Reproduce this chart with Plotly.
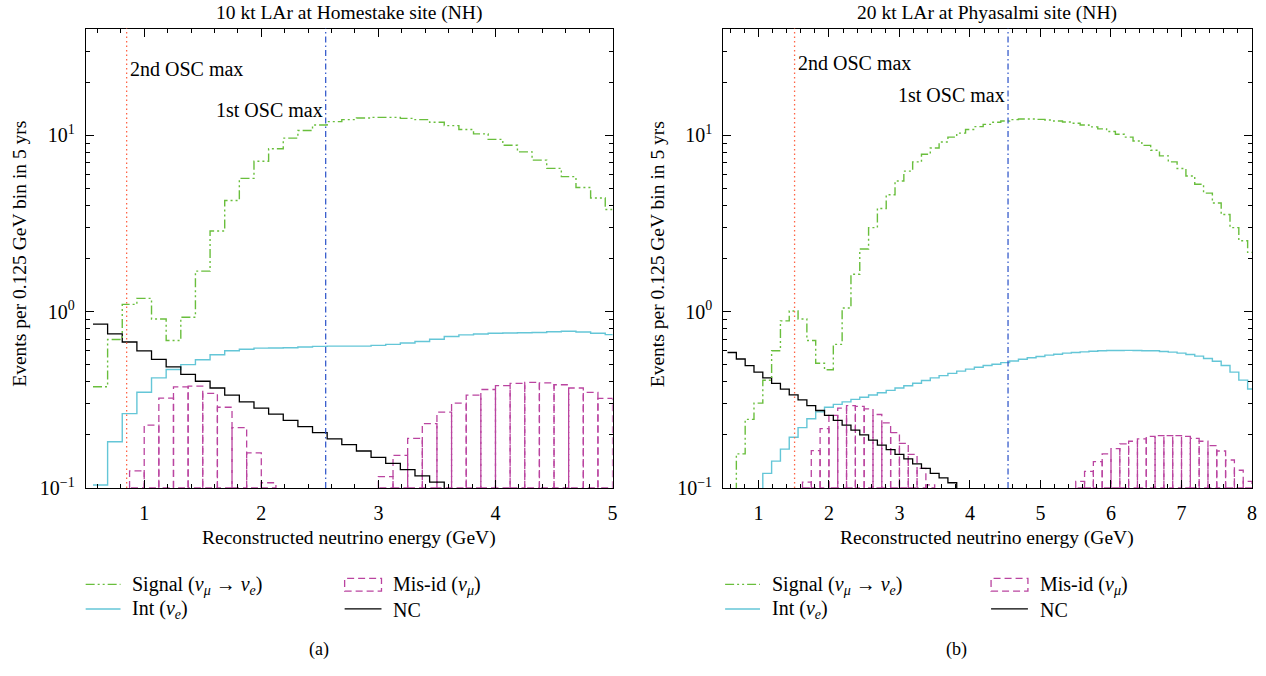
import numpy as np
import plotly.graph_objects as go

# ---------------- data ----------------
BIN_WIDTH = 0.125
FIRST_CENTER = 0.625   # first step centre of the step histograms (GeV)
FIRST_EDGE = 0.5       # first box edge of the mis-id histograms (GeV)

# (a) 10 kt LAr at Homestake
a_signal = [0.375, 0.696, 1.10, 1.19, 0.91, 0.687, 0.93, 1.70, 2.87, 4.28,
            5.71, 7.14, 8.41, 9.66, 10.67, 11.47, 11.98, 12.30, 12.57, 12.67,
            12.67, 12.51, 12.30, 11.88, 11.38, 10.81, 10.22, 9.50, 8.80, 8.07,
            7.25, 6.51, 5.84, 5.07, 4.42, 3.80]
a_int = [0.104, 0.183, 0.264, 0.349, 0.421, 0.470, 0.501, 0.534, 0.570, 0.600,
         0.612, 0.621, 0.623, 0.625, 0.631, 0.636, 0.638, 0.638, 0.638, 0.644,
         0.653, 0.664, 0.678, 0.698, 0.723, 0.739, 0.748, 0.755, 0.757, 0.760,
         0.762, 0.770, 0.774, 0.767, 0.755, 0.741]
a_nc = [0.85, 0.748, 0.673, 0.600, 0.537, 0.487, 0.441, 0.403, 0.369, 0.336,
        0.308, 0.284, 0.262, 0.242, 0.223, 0.206, 0.190, 0.176, 0.162, 0.149,
        0.138, 0.127, 0.117, 0.108, 0.098]
a_misid = [None, None, None, 0.125, 0.227, 0.323, 0.375, 0.378, 0.344, 0.287,
           0.220, 0.158, 0.107, None, None, None, None, None, None, None,
           0.116, 0.153, 0.191, 0.232, 0.269, 0.303, 0.336, 0.362, 0.381, 0.392,
           0.397, 0.395, 0.385, 0.369, 0.349, 0.322]
a_osc_1st = 2.55
a_osc_2nd = 0.85

# (b) 20 kt LAr at Pyhasalmi
b_signal = [0.08, 0.156, 0.245, 0.303, 0.408, 0.600, 0.887, 1.01, 0.910, 0.687,
            0.510, 0.468, 0.653, 1.05, 1.63, 2.27, 3.00, 3.85, 4.61, 5.52,
            6.28, 7.08, 7.82, 8.49, 9.18, 9.79, 10.31, 10.81, 11.23, 11.57,
            11.88, 12.09, 12.30, 12.40, 12.40, 12.35, 12.25, 12.09, 11.93, 11.73,
            11.47, 11.19, 10.90, 10.53, 10.17, 9.79, 9.30, 8.79, 8.24, 7.66,
            7.08, 6.50, 5.89, 5.29, 4.71, 4.14, 3.56, 3.00, 2.53, 2.17]
b_int = [0.07, 0.08, 0.085, 0.09, 0.121, 0.142, 0.166, 0.194, 0.220, 0.247,
         0.270, 0.287, 0.298, 0.308, 0.318, 0.327, 0.337, 0.347, 0.358, 0.369,
         0.380, 0.393, 0.407, 0.421, 0.434, 0.447, 0.460, 0.472, 0.484, 0.495,
         0.503, 0.514, 0.525, 0.537, 0.548, 0.557, 0.567, 0.574, 0.582, 0.587,
         0.592, 0.597, 0.600, 0.602, 0.602, 0.603, 0.602, 0.601, 0.600, 0.595,
         0.590, 0.582, 0.572, 0.560, 0.543, 0.523, 0.495, 0.454, 0.409, 0.364]
b_nc = [0.587, 0.539, 0.495, 0.454, 0.421, 0.392, 0.364, 0.337, 0.316, 0.293,
        0.275, 0.258, 0.242, 0.227, 0.213, 0.200, 0.187, 0.175, 0.165, 0.155,
        0.146, 0.137, 0.129, 0.121, 0.114, 0.107, 0.099]
b_misid = [None, None, None, None, None, None, None, None, None, 0.108,
           0.163, 0.217, 0.258, 0.284, 0.293, 0.290, 0.281, 0.261, 0.234, 0.206,
           0.179, 0.155, 0.129, 0.104, None, None, None, None, None, None,
           None, None, None, None, None, None, None, None, None, None,
           0.109, 0.124, 0.141, 0.156, 0.167, 0.178, 0.184, 0.190, 0.196, 0.198,
           0.198, 0.198, 0.196, 0.191, 0.184, 0.174, 0.162, 0.144, 0.126, 0.109]
b_osc_1st = 4.54
b_osc_2nd = 1.513

a_title = "10 kt LAr at Homestake site (NH)"
b_title = "20 kt LAr at Phyasalmi site (NH)"
x_title = "Reconstructed neutrino energy (GeV)"
y_title = "Events per 0.125 GeV bin in 5 yrs"
a_xrange = [0.5, 5]
b_xrange = [0.5, 8]
x_ticks_a = [1, 2, 3, 4, 5]
x_ticks_b = [1, 2, 3, 4, 5, 6, 7, 8]
y_log_range = [-1, 1.607]
y_major = [0.1, 1, 10]
y_major_text = ["10<sup>−1</sup>", "10<sup>0</sup>", "10<sup>1</sup>"]

# ---------------- styles ----------------
FONT = "Liberation Serif"
C_SIG = "rgb(105,190,60)"
C_INT = "rgb(100,198,215)"
C_MIS = "rgb(186,68,160)"
C_NC = "black"
C_ORA = "rgb(255,100,70)"
C_BLU = "rgb(40,80,200)"
D_SIG = "9px,3px,2px,3px,2px,3px"
D_MIS = "7px,4px"
D_BLU = "6px,3px,1.5px,3px"
D_ORA = "1.5px,3px"

W, H = 1266, 676
ymin = 10 ** y_log_range[0]


def histeps(values):
    n = len(values)
    centers = FIRST_CENTER + BIN_WIDTH * np.arange(n)
    xs = list(centers - BIN_WIDTH / 2) + [centers[-1] + BIN_WIDTH / 2]
    ys = list(values) + [values[-1]]
    return xs, ys


def boxes(values):
    xs, ys = [], []
    for i, v in enumerate(values):
        if v is None or v <= ymin:
            continue
        x0 = FIRST_EDGE + i * BIN_WIDTH
        x1 = x0 + BIN_WIDTH
        xs += [x0, x0, x1, x1, x0, None]
        ys += [ymin, v, v, ymin, ymin, None]
    return xs, ys


fig = go.Figure()

panels = [
    ("x", "y", a_signal, a_int, a_nc, a_misid),
    ("x2", "y2", b_signal, b_int, b_nc, b_misid),
]
for xa, ya, sig, inte, nc, mis in panels:
    bx, by = boxes(mis)
    fig.add_trace(go.Scatter(x=bx, y=by, xaxis=xa, yaxis=ya, mode="lines",
                             line=dict(color=C_MIS, width=1.3, dash=D_MIS),
                             showlegend=False, hoverinfo="skip"))
    for vals, col, dash, wid in [(inte, C_INT, "solid", 1.4),
                                 (nc, C_NC, "solid", 1.3),
                                 (sig, C_SIG, D_SIG, 1.4)]:
        hx, hy = histeps(vals)
        fig.add_trace(go.Scatter(x=hx, y=hy, xaxis=xa, yaxis=ya, mode="lines",
                                 line=dict(color=col, width=wid, dash=dash, shape="hv"),
                                 showlegend=False, hoverinfo="skip"))

# vertical oscillation-maximum lines
for xa, ya, e1, e2 in [("x", "y", a_osc_1st, a_osc_2nd), ("x2", "y2", b_osc_1st, b_osc_2nd)]:
    fig.add_shape(type="line", xref=xa, yref=ya + " domain", x0=e2, x1=e2, y0=0, y1=1,
                  line=dict(color=C_ORA, width=1.3, dash=D_ORA), layer="above")
    fig.add_shape(type="line", xref=xa, yref=ya + " domain", x0=e1, x1=e1, y0=0, y1=1,
                  line=dict(color=C_BLU, width=1.2, dash=D_BLU), layer="above")


def py(p):
    return (H - p) / H


def px(p):
    return p / W


def note(x, y, text, size, xref="paper", xanchor="center", xshift=0, angle=0):
    fig.add_annotation(x=x, y=y, xref=xref, yref="paper", text=text, showarrow=False,
                       xanchor=xanchor, yanchor="middle", xshift=xshift, textangle=angle,
                       font=dict(family=FONT, size=size, color="black"))


OSC_SIZE = 20
note(a_osc_2nd, py(70), "2nd OSC max", OSC_SIZE, xref="x", xanchor="left", xshift=1)
note(a_osc_1st, py(112), "1st OSC max", OSC_SIZE, xref="x", xanchor="right", xshift=-1)
note(b_osc_2nd, py(64), "2nd OSC max", OSC_SIZE, xref="x2", xanchor="left", xshift=1)
note(b_osc_1st, py(97), "1st OSC max", OSC_SIZE, xref="x2", xanchor="right", xshift=-1)

# axes
dom_y = [py(496), py(29)]
common_x = dict(showline=True, linecolor="black", linewidth=1, mirror="allticks",
                ticks="inside", ticklen=8, tickwidth=1, tickcolor="black",
                showgrid=False, zeroline=False,
                tickfont=dict(family=FONT, size=20, color="black"),
                minor=dict(ticks="inside", ticklen=4, tickcolor="black", dtick=0.2, tick0=0,
                           showgrid=False),
                ticklabelstandoff=7)
minor_y = [k * 10 ** e for e in (-1, 0, 1) for k in range(2, 10) if k * 10 ** e < 10 ** y_log_range[1]]
common_y = dict(type="log", range=y_log_range, showline=True, linecolor="black", linewidth=1,
                mirror="allticks", ticks="inside", ticklen=8, tickwidth=1, tickcolor="black",
                showgrid=False, zeroline=False, tickmode="array", tickvals=y_major,
                ticktext=y_major_text,
                tickfont=dict(family=FONT, size=20, color="black"),
                minor=dict(ticks="inside", ticklen=4, tickcolor="black", tickmode="array",
                           tickvals=minor_y, showgrid=False),
                ticklabelstandoff=6)

fig.update_layout(
    width=W, height=H, margin=dict(l=0, r=0, t=0, b=0),
    paper_bgcolor="white", plot_bgcolor="white", showlegend=False,
    xaxis=dict(domain=[px(86), px(615)], range=a_xrange, anchor="y", tickmode="array",
               tickvals=x_ticks_a, **common_x),
    xaxis2=dict(domain=[px(726), px(1257)], range=b_xrange, anchor="y2", tickmode="array",
                tickvals=x_ticks_b, **common_x),
    yaxis=dict(domain=dom_y, anchor="x", **common_y),
    yaxis2=dict(domain=dom_y, anchor="x2", **common_y),
)

for cx, title in [(350, a_title), (991, b_title)]:
    note(px(cx), py(13), title, 19.5)
    note(px(cx), py(547), x_title, 19.5)
for cx in (20, 660):
    note(px(cx), py(258), y_title, 19.5, angle=-90)
note(px(320), py(660), "(a)", 18)
note(px(960), py(660), "(b)", 18)

# legends
LEG_SIZE = 20
sig_label = "Signal (<i>ν</i><sub><i>μ</i></sub> → <i>ν</i><sub><i>e</i></sub>)"
int_label = "Int (<i>ν</i><sub><i>e</i></sub>)"
mis_label = "Mis-id (<i>ν</i><sub><i>μ</i></sub>)"
nc_label = "NC"
for x0, x2 in [(86, 346), (728, 995)]:
    r1, r2 = 594, 619
    fig.add_shape(type="line", xref="paper", yref="paper", x0=px(x0), x1=px(x0 + 35),
                  y0=py(r1), y1=py(r1), line=dict(color=C_SIG, width=1.4, dash=D_SIG))
    fig.add_shape(type="line", xref="paper", yref="paper", x0=px(x0), x1=px(x0 + 35),
                  y0=py(r2), y1=py(r2), line=dict(color=C_INT, width=1.4))
    fig.add_shape(type="rect", xref="paper", yref="paper", x0=px(x2), x1=px(x2 + 37),
                  y0=py(r1 + 7), y1=py(r1 - 6), line=dict(color=C_MIS, width=1.3, dash=D_MIS))
    fig.add_shape(type="line", xref="paper", yref="paper", x0=px(x2), x1=px(x2 + 37),
                  y0=py(r2), y1=py(r2), line=dict(color=C_NC, width=1.3))
    note(px(x0 + 45), py(r1 + 1), sig_label, LEG_SIZE, xanchor="left")
    note(px(x0 + 45), py(r2 + 1), int_label, LEG_SIZE, xanchor="left")
    note(px(x2 + 47), py(r1 + 1), mis_label, LEG_SIZE, xanchor="left")
    note(px(x2 + 47), py(r2 + 1), nc_label, LEG_SIZE, xanchor="left")

fig.write_html("out.html")
